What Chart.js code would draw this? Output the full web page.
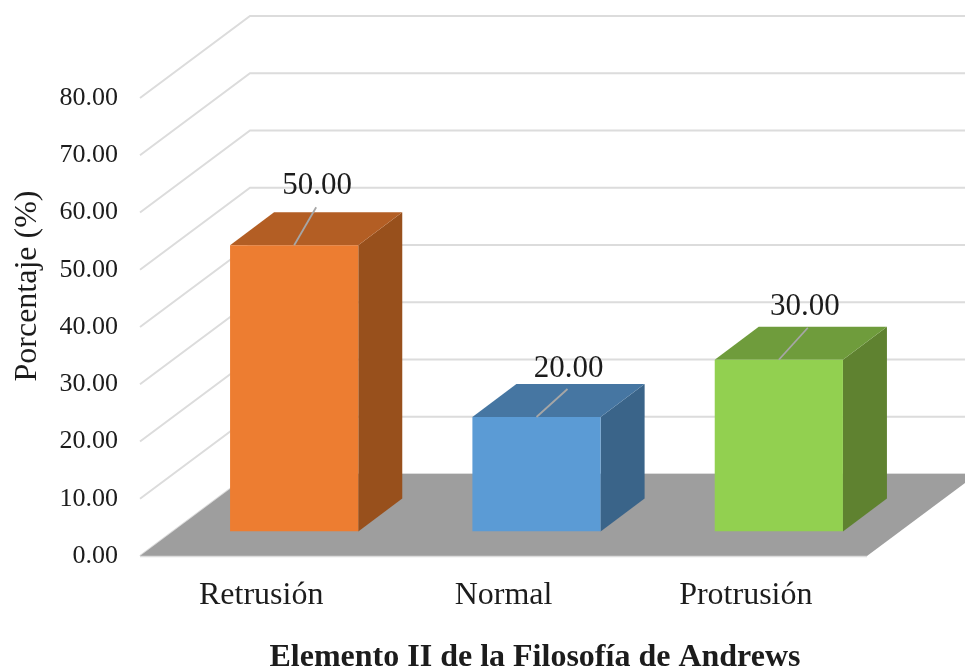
<!DOCTYPE html>
<html>
<head>
<meta charset="utf-8">
<title>Elemento II de la Filosofía de Andrews</title>
<script src="https://cdn.jsdelivr.net/npm/chart.js@4/dist/chart.umd.min.js"></script>
<style>
    html, body {margin: 0; padding: 0; background: #fff; overflow: hidden;}
    canvas {display: block;}
</style>
</head>
<body>
<canvas id="bars-chart" width="965" height="671"></canvas>
<script>
const categories = ['Retrusión', 'Normal', 'Protrusión'];
const values = [50, 20, 30];
const yMax = 80;
const yStep = 10;
const xTitle = 'Elemento II de la Filosofía de Andrews';
const yTitle = 'Porcentaje (%)';

const frontColors = ['#ED7D31', '#5B9BD5', '#92D050'];
const topColors = ['#B35E24', '#4676A2', '#6F9C3C'];
const sideColors = ['#98501C', '#3A6489', '#5F8230'];
const fontName = '"Liberation Serif", "Times New Roman", serif';
const textColor = '#1c1c1c';

// depth of the floor, of the bars on it and of the bars themselves
const wallDepth = {x: 110, y: -82};
const barShift = {x: 33, y: -24.5};
const barDepth = {x: 44, y: -33};
// where the leader line ends and the value sits, per bar, from the bar's top middle
const leaders = [
    {x: 22, y: -38, textX: 23, textY: -59},
    {x: 31, y: -28, textX: 32, textY: -48},
    {x: 29, y: -32, textX: 26, textY: -53}
];

function poly(ctx, points, color) {
    ctx.fillStyle = color;
    ctx.beginPath();
    points.forEach(function (p, i) {
        if (i === 0) ctx.moveTo(p[0], p[1]);
        else ctx.lineTo(p[0], p[1]);
    });
    ctx.closePath();
    ctx.fill();
}

const box3d = {
    id: 'box3d',
    beforeDatasetsDraw(chart) {
        const {ctx, chartArea: {left, right}, scales: {y}} = chart;
        const elements = chart.getDatasetMeta(0).data;

        ctx.save();
        ctx.strokeStyle = '#DCDCDC';
        y.ticks.forEach(function (tick) {
            const py = y.getPixelForValue(tick.value);
            ctx.lineWidth = 2;
            ctx.beginPath();
            ctx.moveTo(left, py);
            ctx.lineTo(left + wallDepth.x, py + wallDepth.y);
            ctx.lineTo(chart.width, py + wallDepth.y);
            ctx.stroke();
        });

        const y0 = y.getPixelForValue(0);
        poly(ctx, [
            [left, y0],
            [right, y0],
            [right + wallDepth.x, y0 + wallDepth.y],
            [left + wallDepth.x, y0 + wallDepth.y]
        ], '#9E9E9E');
        ctx.lineWidth = 1.5;
        ctx.beginPath();
        ctx.moveTo(left, y0 + 0.5);
        ctx.lineTo(right, y0 + 0.5);
        ctx.stroke();

        elements.forEach(function (bar, i) {
            const x1 = bar.x + bar.width / 2 + barShift.x;
            const x0 = bar.x - bar.width / 2 + barShift.x;
            const top = bar.y + barShift.y;
            const base = bar.base + barShift.y;
            poly(ctx, [
                [x1, top],
                [x1 + barDepth.x, top + barDepth.y],
                [x1 + barDepth.x, base + barDepth.y],
                [x1, base]
            ], sideColors[i]);
            poly(ctx, [
                [x0, top],
                [x0 + barDepth.x, top + barDepth.y],
                [x1 + barDepth.x, top + barDepth.y],
                [x1, top]
            ], topColors[i]);
        });
        ctx.restore();

        // front faces are the real bars, only moved back onto the floor
        ctx.save();
        ctx.translate(barShift.x, barShift.y);
    },
    afterDatasetsDraw(chart) {
        const {ctx} = chart;
        const elements = chart.getDatasetMeta(0).data;
        ctx.restore();

        ctx.save();
        elements.forEach(function (bar, i) {
            const mx = bar.x + barShift.x;
            const my = bar.y + barShift.y;
            ctx.strokeStyle = '#A6A6A6';
            ctx.lineWidth = 1.8;
            ctx.beginPath();
            ctx.moveTo(mx, my);
            ctx.lineTo(mx + leaders[i].x, my + leaders[i].y);
            ctx.stroke();

            ctx.fillStyle = textColor;
            ctx.font = '31px ' + fontName;
            ctx.textAlign = 'center';
            ctx.textBaseline = 'middle';
            ctx.fillText(values[i].toFixed(2), mx + leaders[i].textX, my + leaders[i].textY);
        });

        ctx.fillStyle = textColor;
        ctx.textAlign = 'center';
        ctx.textBaseline = 'middle';
        ctx.font = 'bold 32px ' + fontName;
        ctx.fillText(xTitle, 535, 658);

        ctx.font = '32px ' + fontName;
        ctx.translate(28, 286);
        ctx.rotate(-Math.PI / 2);
        ctx.fillText(yTitle, 0, 0);
        ctx.restore();
    }
};

new Chart('bars-chart', {
    type: 'bar',
    data: {
        labels: categories,
        datasets: [{
            data: values,
            backgroundColor: frontColors,
            borderWidth: 0,
            categoryPercentage: 1,
            barPercentage: 0.529
        }]
    },
    options: {
        responsive: false,
        animation: false,
        layout: {padding: {top: 98, right: 98, left: 0, bottom: 0}},
        plugins: {
            legend: {display: false},
            title: {display: false},
            tooltip: {enabled: false}
        },
        scales: {
            x: {
                grid: {display: false},
                border: {display: false},
                afterFit(scale) { scale.height = 115; },
                ticks: {
                    padding: 12,
                    color: textColor,
                    maxRotation: 0,
                    font: {family: fontName, size: 32}
                }
            },
            y: {
                min: 0,
                max: yMax,
                grid: {display: false},
                border: {display: false},
                afterFit(scale) { scale.width = 140; },
                ticks: {
                    stepSize: yStep,
                    padding: 14,
                    color: textColor,
                    font: {family: fontName, size: 26},
                    callback: function (value) { return value.toFixed(2); }
                }
            }
        }
    },
    plugins: [box3d]
});
</script>
</body>
</html>
